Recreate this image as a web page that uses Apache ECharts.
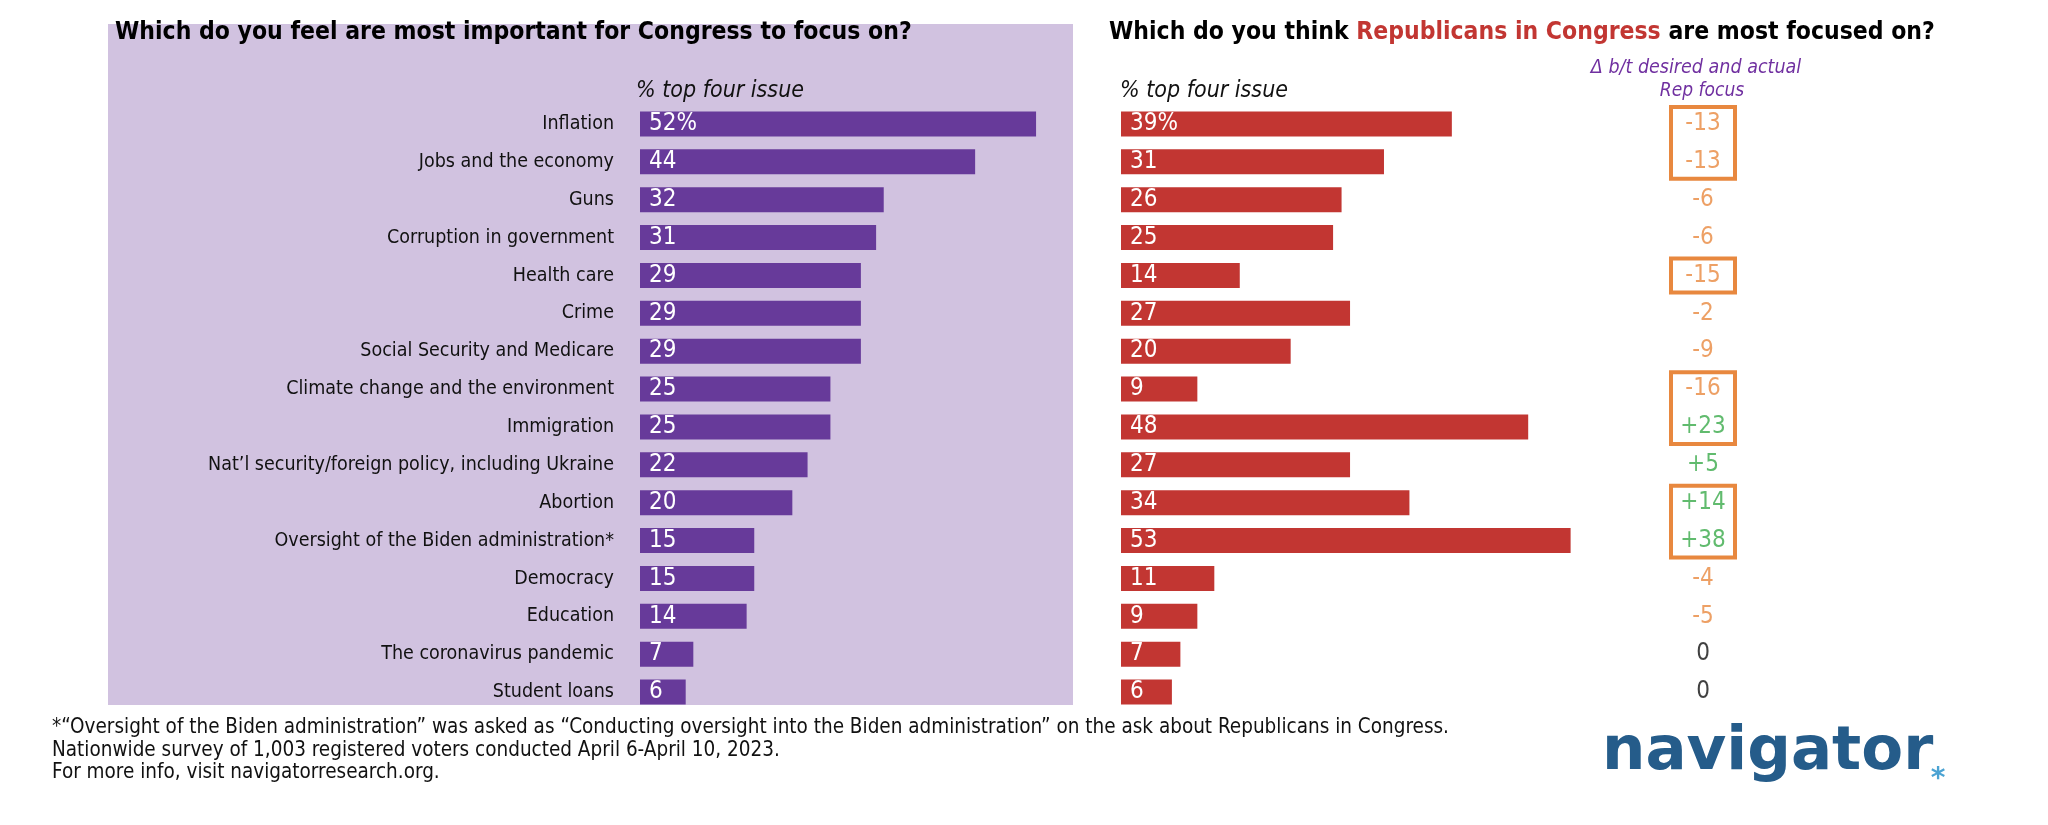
<!DOCTYPE html>
<html><head><meta charset="utf-8">
<script src="https://cdn.jsdelivr.net/npm/echarts@6/dist/echarts.min.js"></script>
<style>html,body{margin:0;padding:0;background:#fff}#c{width:2048px;height:825px}</style>
</head><body><div id="c"></div>
<script>
const categories = ["Inflation","Jobs and the economy","Guns","Corruption in government","Health care","Crime","Social Security and Medicare","Climate change and the environment","Immigration","Nat\u2019l security/foreign policy, including Ukraine","Abortion","Oversight of the Biden administration*","Democracy","Education","The coronavirus pandemic","Student loans"];
const desired = [52,44,32,31,29,29,29,25,25,22,20,15,15,14,7,6];
const repFocus = [39,31,26,25,14,27,20,9,48,27,34,53,11,9,7,6];
const delta = [-13,-13,-6,-6,-15,-2,-9,-16,23,5,14,38,-4,-5,0,0];
const boxGroups = [[0,1],[4,4],[7,8],[10,11]];

const FONT = '"DejaVu Sans Condensed","Liberation Sans Narrow","Liberation Sans",sans-serif';
const PURPLE = '#673A9A', RED = '#C23632', ORANGE = '#E8883F', GREEN = '#3AAA4A';

const chart = echarts.init(document.getElementById('c'));
const top0 = 105, h0 = 606;
function barLabel(){
  return {show:true, position:'insideLeft', distance:9, color:'#fff', fontFamily:FONT, fontSize:24,
    formatter: p => p.dataIndex===0 ? p.value+'%' : String(p.value)};
}
chart.setOption({
  animation:false,
  grid:[
    {left:640, top:top0, width:457, height:h0},
    {left:1121, top:top0, width:509, height:h0},
    {left:1669, top:top0, width:68, height:h0}
  ],
  xAxis:[
    {gridIndex:0, type:'value', min:0, max:60, show:false},
    {gridIndex:1, type:'value', min:0, max:60, show:false},
    {gridIndex:2, type:'value', min:0, max:1, show:false}
  ],
  yAxis:[
    {gridIndex:0, type:'category', data:categories, inverse:true,
      axisLine:{show:false}, axisTick:{show:false},
      axisLabel:{margin:26, color:'#111', fontFamily:FONT, fontSize:19.5}},
    {gridIndex:1, type:'category', data:categories, inverse:true, show:false},
    {gridIndex:2, type:'category', data:categories, inverse:true, show:false}
  ],
  series:[
    {type:'bar', xAxisIndex:0, yAxisIndex:0, data:desired, barWidth:25, itemStyle:{color:PURPLE}, label:barLabel()},
    {type:'bar', xAxisIndex:1, yAxisIndex:1, data:repFocus, barWidth:25, itemStyle:{color:RED}, label:barLabel()},
    {type:'scatter', xAxisIndex:2, yAxisIndex:2, symbolSize:0,
      data: delta.map((d,i)=>({value:[0.5,i,d], label:{color: d>0?GREEN:(d<0?ORANGE:'#111')}})),
      label:{show:true, position:'inside', fontFamily:FONT, fontSize:24,
        formatter:p=>{const d=p.value[2]; return d>0?'+'+d:String(d);}}},
    {type:'custom', xAxisIndex:2, yAxisIndex:2,
      data: boxGroups.map(g=>[0,g[0],g[1]]),
      encode:{x:0,y:1},
      renderItem:(params,api)=>{
        const a = api.coord([0, api.value(1)]);
        const b = api.coord([1, api.value(2)]);
        const band = api.size([0,1])[1];
        const y0 = a[1]-band/2+2, y1 = b[1]+band/2-2;
        return {type:'rect', shape:{x:a[0]+2, y:y0, width:b[0]-a[0]-4, height:y1-y0},
          style:{fill:'none', stroke:ORANGE, lineWidth:4}};
      }}
  ],
  graphic:[
    {type:'rect', z:-10, shape:{x:108,y:24,width:965,height:681}, style:{fill:'#D1C2E0'}},
    {type:'text', x:115, y:33, style:{text:'Which do you feel are most important for Congress to focus on?', font:'bold 24.5px '+FONT, fill:'#000', textVerticalAlign:'middle'}},
    {type:'text', x:1109, y:33, style:{text:'Which do you think {r|Republicans in Congress} are most focused on?', font:'bold 24.5px '+FONT, fill:'#000', textVerticalAlign:'middle',
      rich:{r:{fill:RED, font:'bold 24.5px '+FONT}}}},
    {type:'text', x:636, y:91, style:{text:'% top four issue', font:'italic 23px '+FONT, fill:'#111', textVerticalAlign:'middle'}},
    {type:'text', x:1120, y:91, style:{text:'% top four issue', font:'italic 23px '+FONT, fill:'#111', textVerticalAlign:'middle'}},
    {type:'text', x:1696, y:68, style:{text:'\u0394 b/t desired and actual', font:'italic 19.5px '+FONT, fill:'#7030A0', textAlign:'center', textVerticalAlign:'middle'}},
    {type:'text', x:1702, y:91, style:{text:'Rep focus', font:'italic 19px '+FONT, fill:'#7030A0', textAlign:'center', textVerticalAlign:'middle'}},
    {type:'text', x:52, y:728, style:{text:'*\u201COversight of the Biden administration\u201D was asked as \u201CConducting oversight into the Biden administration\u201D on the ask about Republicans in Congress.', font:'20.5px '+FONT, fill:'#111', textVerticalAlign:'middle'}},
    {type:'text', x:52, y:751, style:{text:'Nationwide survey of 1,003 registered voters conducted April 6-April 10, 2023.', font:'20.5px '+FONT, fill:'#111', textVerticalAlign:'middle'}},
    {type:'text', x:52, y:773, style:{text:'For more info, visit navigatorresearch.org.', font:'20.5px '+FONT, fill:'#111', textVerticalAlign:'middle'}},
    {type:'text', x:1602, y:753, style:{text:'navigator', font:'bold 61px "DejaVu Sans", sans-serif', fill:'#255C8A', textVerticalAlign:'middle'}},
    {type:'text', x:1938, y:780, style:{text:'*', font:'bold 28px "DejaVu Sans", sans-serif', fill:'#4BA3D3', textAlign:'center', textVerticalAlign:'middle'}}
  ]
});
</script></body></html>
